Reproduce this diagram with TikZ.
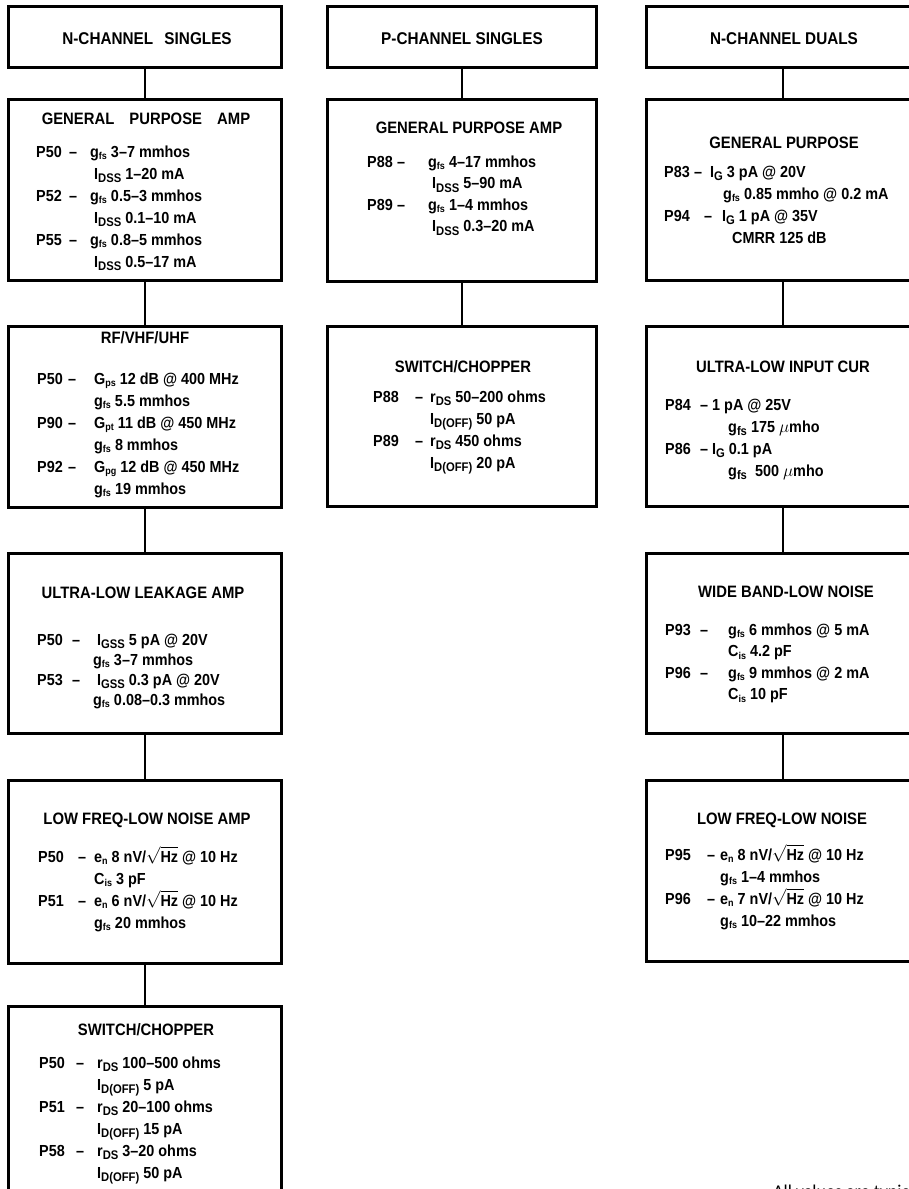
\documentclass[tikz,border=0pt]{standalone}
\usepackage{fontspec}
\setmainfont{Liberation Sans}[FakeStretch=0.9]
\newfontfamily\notefont{Carlito}
\usepackage{tikz}

% small and large subscripts of the catalogue
\newcommand{\sbs}[1]{\raisebox{-2.5pt}{\fontsize{10}{10}\selectfont #1}}
\newcommand{\sbl}[1]{\raisebox{-3.5pt}{\fontsize{12.5}{12.5}\selectfont #1}}
% part number, dash, values
\newcommand{\rows}[3]{\begin{tabular}[t]{@{}p{#1pt}@{}p{#2pt}@{}l@{}}#3\end{tabular}}

\begin{document}
\begin{tikzpicture}[x=1pt,y=-1pt,
    box/.style={draw, line width=2.8pt, rectangle, inner sep=0pt, minimum width=273pt},
    ttl/.style={font=\fontsize{16.5}{18}\selectfont\bfseries, inner sep=0pt, anchor=base},
    hdr/.style={ttl, font=\fontsize{17}{18}\selectfont\bfseries},
    txt/.style={font=\fontsize{16}{22}\selectfont\bfseries, inner sep=0pt, anchor=base west},
    link/.style={line width=1.8pt}]
  \useasboundingbox (0,0) rectangle (909,1189);
  \clip (0,0) rectangle (909,1189);

  % Define the boxes of the three columns
  \node[box, minimum height=61pt] (n1h) at (145,37) {};
  \node[box, minimum height=181pt] (n1a) at (145,190) {};
  \node[box, minimum height=181pt] (n1b) at (145,417) {};
  \node[box, minimum height=180pt] (n1c) at (145,643.5) {};
  \node[box, minimum height=183pt] (n1d) at (145,872) {};
  \node[box, minimum height=222pt] (n1e) at (145,1117.5) {};

  \node[box, minimum width=269pt, minimum height=61pt] (p1h) at (462,37) {};
  \node[box, minimum width=269pt, minimum height=182pt] (p1a) at (462,190.5) {};
  \node[box, minimum width=269pt, minimum height=180pt] (p1b) at (462,416.5) {};

  \node[box, minimum height=61pt] (d1h) at (783,37) {};
  \node[box, minimum height=181pt] (d1a) at (783,190) {};
  \node[box, minimum height=180pt] (d1b) at (783,416.5) {};
  \node[box, minimum height=180pt] (d1c) at (783,643.5) {};
  \node[box, minimum height=181pt] (d1d) at (783,871) {};

  % Draw the links down each column
  \draw[link] (n1h.south) -- (n1a.north);
  \draw[link] (n1a.south) -- (n1b.north);
  \draw[link] (n1b.south) -- (n1c.north);
  \draw[link] (n1c.south) -- (n1d.north);
  \draw[link] (n1d.south) -- (n1e.north);
  \draw[link] (p1h.south) -- (p1a.north);
  \draw[link] (p1a.south) -- (p1b.north);
  \draw[link] (d1h.south) -- (d1a.north);
  \draw[link] (d1a.south) -- (d1b.north);
  \draw[link] (d1b.south) -- (d1c.north);
  \draw[link] (d1c.south) -- (d1d.north);

  % Headings
  \node[hdr] (n1h-t) at (147,44) {N-CHANNEL \hspace{7pt}SINGLES};
  \node[ttl] (n1a-t) at (146,124) {GENERAL \hspace{11pt}PURPOSE \hspace{11pt}AMP};
  \node[ttl] (n1b-t) at (145,343) {RF/VHF/UHF};
  \node[ttl] (n1c-t) at (143,598) {ULTRA-LOW LEAKAGE AMP};
  \node[ttl] (n1d-t) at (147,824) {LOW FREQ-LOW NOISE AMP};
  \node[ttl] (n1e-t) at (146,1035) {SWITCH/CHOPPER};
  \node[hdr] (p1h-t) at (462,44) {P-CHANNEL SINGLES};
  \node[ttl] (p1a-t) at (469,133) {GENERAL PURPOSE AMP};
  \node[ttl] (p1b-t) at (463,372) {SWITCH/CHOPPER};
  \node[hdr] (d1h-t) at (784,44) {N-CHANNEL DUALS};
  \node[ttl] (d1a-t) at (784,148) {GENERAL PURPOSE};
  \node[ttl] (d1b-t) at (783,372) {ULTRA-LOW INPUT CUR};
  \node[ttl] (d1c-t) at (786,597) {WIDE BAND-LOW NOISE};
  \node[ttl] (d1d-t) at (782,824) {LOW FREQ-LOW NOISE};

  % Part lists
  \node[txt] (n1a-b) at (36,157) {\rows{33}{21}{%
    P50 & -- & g\sbs{fs} 3--7 mmhos\\
        &    & \hspace{4pt}I\sbl{DSS} 1--20 mA\\
    P52 & -- & g\sbs{fs} 0.5--3 mmhos\\
        &    & \hspace{4pt}I\sbl{DSS} 0.1--10 mA\\
    P55 & -- & g\sbs{fs} 0.8--5 mmhos\\
        &    & \hspace{4pt}I\sbl{DSS} 0.5--17 mA}};
  \node[txt] (n1b-b) at (37,384) {\rows{31}{26}{%
    P50 & -- & G\sbs{ps} 12 dB @ 400 MHz\\
        &    & g\sbs{fs} 5.5 mmhos\\
    P90 & -- & G\sbs{pt} 11 dB @ 450 MHz\\
        &    & g\sbs{fs} 8 mmhos\\
    P92 & -- & G\sbs{pg} 12 dB @ 450 MHz\\
        &    & g\sbs{fs} 19 mmhos}};
  \node[txt, font=\fontsize{16}{20}\selectfont\bfseries] (n1c-b) at (37,645) {\rows{35}{21}{%
    P50 & -- & \hspace{4pt}I\sbl{GSS} 5 pA @ 20V\\
        &    & g\sbs{fs} 3--7 mmhos\\
    P53 & -- & \hspace{4pt}I\sbl{GSS} 0.3 pA @ 20V\\
        &    & g\sbs{fs} 0.08--0.3 mmhos}};
  \node[txt] (n1d-b) at (38,862) {\rows{40}{16}{%
    P50 & -- & e\sbs{n} 8 nV/$\sqrt{\mbox{Hz}}$ @ 10 Hz\\
        &    & C\sbs{is} 3 pF\\
    P51 & -- & e\sbs{n} 6 nV/$\sqrt{\mbox{Hz}}$ @ 10 Hz\\
        &    & g\sbs{fs} 20 mmhos}};
  \node[txt] (n1e-b) at (39,1068) {\rows{37}{21}{%
    P50 & -- & r\sbl{DS} 100--500 ohms\\
        &    & I\sbl{D(OFF)} 5 pA\\
    P51 & -- & r\sbl{DS} 20--100 ohms\\
        &    & I\sbl{D(OFF)} 15 pA\\
    P58 & -- & r\sbl{DS} 3--20 ohms\\
        &    & I\sbl{D(OFF)} 50 pA}};

  \node[txt, font=\fontsize{16}{21.5}\selectfont\bfseries] (p1a-b) at (367,167) {\rows{30}{31}{%
    P88 & -- & g\sbs{fs} 4--17 mmhos\\
        &    & \hspace{4pt}I\sbl{DSS} 5--90 mA\\
    P89 & -- & g\sbs{fs} 1--4 mmhos\\
        &    & \hspace{4pt}I\sbl{DSS} 0.3--20 mA}};
  \node[txt] (p1b-b) at (373,402) {\rows{42}{15}{%
    P88 & -- & r\sbl{DS} 50--200 ohms\\
        &    & I\sbl{D(OFF)} 50 pA\\
    P89 & -- & r\sbl{DS} 450 ohms\\
        &    & I\sbl{D(OFF)} 20 pA}};

  \node[txt] (d1a-b) at (664,177) {\rows{30}{16}{%
    P83 & -- & I\sbl{G} 3 pA @ 20V\\
        &    & \hspace{13pt}g\sbs{fs} 0.85 mmho @ 0.2 mA\\
    P94 & \leavevmode\rlap{\hspace{10pt}--} & \hspace{12pt}I\sbl{G} 1 pA @ 35V\\
        &    & \hspace{22pt}CMRR 125 dB}};
  \node[txt] (d1b-b) at (665,410) {\rows{35}{12}{%
    P84 & -- & 1 pA @ 25V\\
        &    & \hspace{16pt}g\sbl{fs} 175 $\mu$mho\\
    P86 & -- & I\sbl{G} 0.1 pA\\
        &    & \hspace{16pt}g\sbl{fs}\ \ 500 $\mu$mho}};
  \node[txt, font=\fontsize{16}{21.5}\selectfont\bfseries] (d1c-b) at (665,635) {\rows{35}{28}{%
    P93 & -- & g\sbs{fs} 6 mmhos @ 5 mA\\
        &    & C\sbs{is} 4.2 pF\\
    P96 & -- & g\sbs{fs} 9 mmhos @ 2 mA\\
        &    & C\sbs{is} 10 pF}};
  \node[txt] (d1d-b) at (665,860) {\rows{42}{13}{%
    P95 & -- & e\sbs{n} 8 nV/$\sqrt{\mbox{Hz}}$ @ 10 Hz\\
        &    & g\sbs{fs} 1--4 mmhos\\
    P96 & -- & e\sbs{n} 7 nV/$\sqrt{\mbox{Hz}}$ @ 10 Hz\\
        &    & g\sbs{fs} 10--22 mmhos}};

  % Footnote, cut by the page edge
  \node[anchor=base west, inner sep=0pt, font=\notefont\fontsize{18}{20}\selectfont] (note) at (773,1197) {All values are typic};
\end{tikzpicture}
\end{document}
